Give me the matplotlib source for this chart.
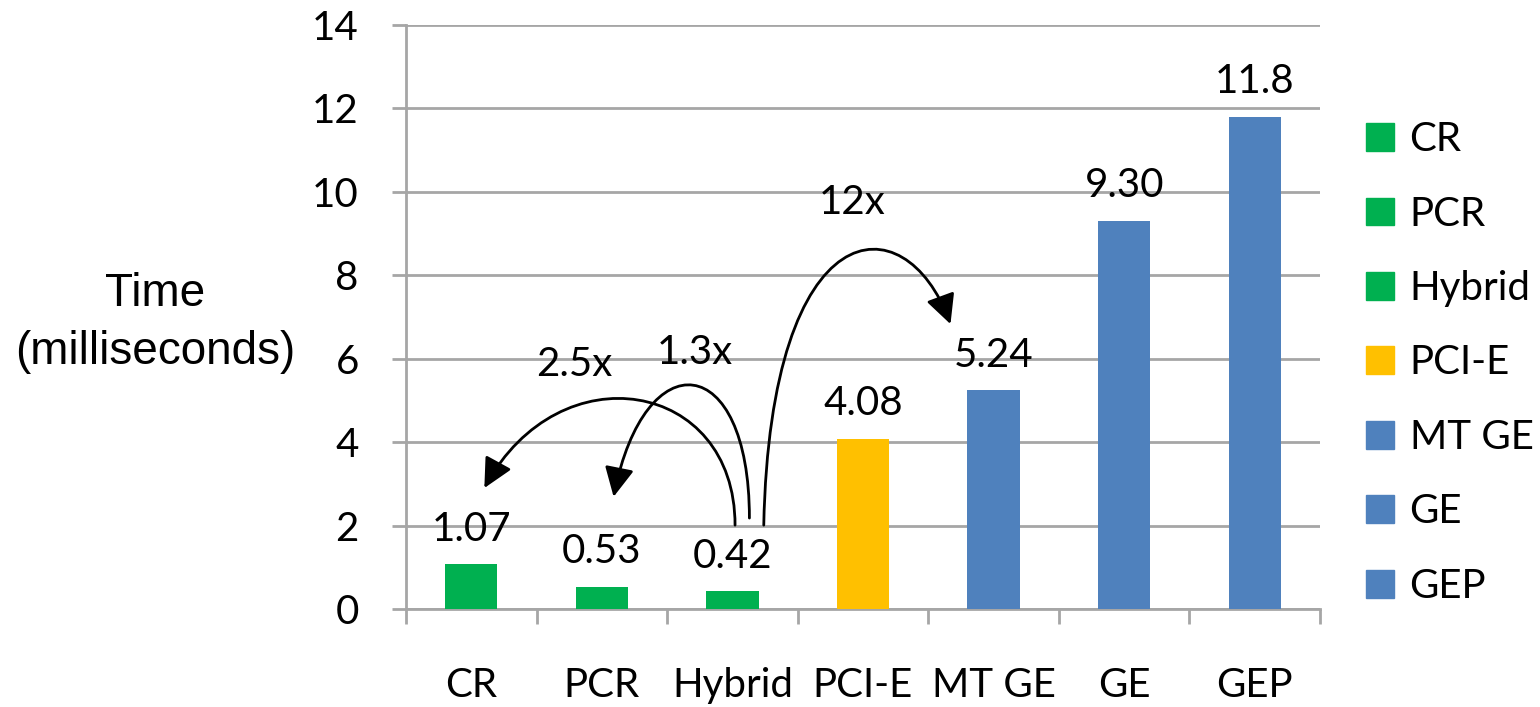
import matplotlib.pyplot as plt
import numpy as np
from matplotlib.patches import FancyArrowPatch, Patch
from matplotlib.path import Path

plt.rcParams['font.family'] = ['Lato', 'DejaVu Sans']

# tiempos de cada metodo (ms)
metodos = ['CR', 'PCR', 'Hybrid', 'PCI-E', 'MT GE', 'GE', 'GEP']
tiempos = [1.07, 0.53, 0.42, 4.08, 5.24, 9.30, 11.8]
etiquetas = ['1.07', '0.53', '0.42', '4.08', '5.24', '9.30', '11.8']
colores = ['#00B050', '#00B050', '#00B050', '#FFC000', '#4F81BD', '#4F81BD', '#4F81BD']

# flechas de aceleracion: (texto, puntos de control en datos, posicion del texto)
flechas = [
    ('2.5x', [(2.02, 2.01), (2.02, 5.49), (0.68, 6.21), (0.10, 2.90)], (0.79, 5.85)),
    ('1.3x', [(2.13, 2.18), (2.13, 6.21), (1.33, 6.45), (1.09, 2.69)], (1.71, 6.15)),
    ('12x', [(2.24, 2.01), (2.29, 9.57), (3.32, 9.81), (3.67, 6.83)], (2.92, 9.75)),
]

gris = '#a6a6a6'
fs = 29

fig = plt.figure(figsize=(15.4, 7.07), dpi=100)
ax = fig.add_axes([406 / 1540, 1 - 609 / 707, (1320 - 406) / 1540, (609 - 25) / 707])

x = np.arange(len(metodos))
ax.bar(x, tiempos, width=0.4, color=colores, zorder=3)

for xi, t, et in zip(x, tiempos, etiquetas):
    ax.annotate(et, (xi, t), xytext=(0, 17), textcoords='offset points',
                ha='center', va='baseline', fontsize=fs)

for texto, pts, pos in flechas:
    camino = Path(pts, [Path.MOVETO, Path.CURVE4, Path.CURVE4, Path.CURVE4])
    flecha = FancyArrowPatch(path=camino, arrowstyle='-|>,head_length=0.9,head_width=0.45',
                             mutation_scale=20, color='black', lw=2,
                             shrinkA=0, shrinkB=0, zorder=4)
    ax.add_patch(flecha)
    ax.text(pos[0], pos[1], texto, ha='center', va='center', fontsize=fs)

ax.set_xlim(-0.5, len(metodos) - 0.5)
ax.set_ylim(0, 14)
ax.set_yticks(np.arange(0, 15, 2))
ax.yaxis.grid(True, color=gris, lw=2, zorder=0)
ax.set_axisbelow(True)

ax.set_xticks(x)
ax.set_xticklabels(metodos, fontsize=fs)
ax.set_xticks(np.arange(-0.5, len(metodos), 1), minor=True)
ax.tick_params(axis='x', which='major', length=0, pad=42)
ax.tick_params(axis='x', which='minor', length=11, width=2, color=gris)
ax.tick_params(axis='y', labelsize=fs, length=10, width=2, color=gris, pad=24)

for lado in ['top', 'right']:
    ax.spines[lado].set_visible(False)
for lado in ['left', 'bottom']:
    ax.spines[lado].set_color(gris)
    ax.spines[lado].set_linewidth(2)

fig.text(155 / 1540, 1 - 323 / 707, 'Time\n(milliseconds)', ha='center', va='center',
         fontsize=33, family='Liberation Sans', linespacing=1.4)

handles = [Patch(color=c, label=m) for c, m in zip(colores, metodos)]
fig.legend(handles=handles, loc='center left', bbox_to_anchor=(1366 / 1540, 1 - 363 / 707),
           frameon=False, fontsize=fs, handlelength=0.69, handleheight=0.69,
           handletextpad=0.39, labelspacing=0.93, borderpad=0, borderaxespad=0)

plt.savefig('out.png')
plt.close()
